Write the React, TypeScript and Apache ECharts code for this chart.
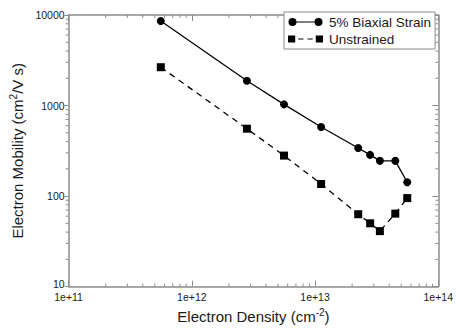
import React, { useEffect, useRef } from 'react';
import * as echarts from 'echarts';

// Electron density (cm^-2)
const density = [5.6e11, 2.8e12, 5.6e12, 1.12e13, 2.24e13, 2.8e13, 3.36e13, 4.48e13, 5.6e13];
// Electron mobility (cm^2/V s)
const strained = [8600, 1880, 1030, 580, 340, 285, 245, 245, 142];
const unstrained = [2650, 555, 280, 136, 63, 50, 41, 64, 95];

const seriesNames = ['5% Biaxial Strain', 'Unstrained'];

const xDecades = [1e11, 1e12, 1e13];
const yDecades = [10, 100, 1000];
const minorMultipliers = [2, 3, 4, 5, 6, 7, 8, 9];

const X_MIN = 1e11;
const X_MAX = 1e14;
const Y_MIN = 10;
const Y_MAX = 10000;

const axisColor = '#8c8c8c';
const textColor = '#1a1a1a';
const font = '"Liberation Sans", Arial, Helvetica, sans-serif';

const circleIcon =
  'path://M1,4 a4,4 0 1,0 8,0 a4,4 0 1,0 -8,0 Z M9,3.4 L27,3.4 L27,4.6 L9,4.6 Z M27,4 a4,4 0 1,0 8,0 a4,4 0 1,0 -8,0 Z';
const squareIcon =
  'path://M1,0.5 L8,0.5 L8,7.5 L1,7.5 Z M11,3.4 L16,3.4 L16,4.6 L11,4.6 Z M20,3.4 L25,3.4 L25,4.6 L20,4.6 Z M28,0.5 L35,0.5 L35,7.5 L28,7.5 Z';

export default function App() {
  const ref = useRef<HTMLDivElement>(null);

  useEffect(() => {
    if (!ref.current) return;
    const chart = echarts.init(ref.current, undefined, { renderer: 'svg' });

    const xMinor: number[][] = [];
    xDecades.forEach((d) => minorMultipliers.forEach((m) => xMinor.push([d * m, Y_MIN])));
    const yMinor: number[][] = [];
    yDecades.forEach((d) => minorMultipliers.forEach((m) => yMinor.push([X_MIN, d * m])));

    const tickStyle = { stroke: axisColor, lineWidth: 1 };

    const option: any = {
      animation: false,
      backgroundColor: '#ffffff',
      grid: { left: 62, top: 15, width: 379, height: 273, containLabel: false },
      legend: {
        data: [
          { name: seriesNames[0], icon: circleIcon },
          { name: seriesNames[1], icon: squareIcon },
        ],
        orient: 'vertical',
        left: 284,
        top: 12,
        itemWidth: 35,
        itemHeight: 8,
        itemGap: 3,
        padding: [3, 4, 3, 4],
        backgroundColor: '#ffffff',
        borderColor: axisColor,
        borderWidth: 1,
        borderRadius: 0,
        textStyle: { fontFamily: font, fontSize: 13.5, lineHeight: 14, color: textColor, padding: [0, 0, 0, 1] },
        selectedMode: false,
      },
      xAxis: [
        {
          type: 'log',
          logBase: 10,
          min: X_MIN,
          max: X_MAX,
          position: 'bottom',
          name: 'Electron Density (cm{sup|-2})',
          nameLocation: 'middle',
          nameGap: 20,
          nameTextStyle: {
            fontFamily: font,
            fontSize: 15,
            color: textColor,
            rich: { sup: { fontFamily: font, fontSize: 10, color: textColor, verticalAlign: 'top', padding: [0, 0, 8, 0] } },
          },
          axisLine: { show: true, lineStyle: { color: axisColor, width: 1.5 } },
          axisTick: { show: true, inside: true, length: 6, lineStyle: { color: axisColor, width: 1 } },
          axisLabel: {
            show: true,
            margin: 5,
            fontFamily: font,
            fontSize: 10.5,
            color: textColor,
            formatter: (v: number) => '1e+' + Math.round(Math.log10(v)),
          },
          splitLine: { show: false },
        },
        {
          type: 'log',
          logBase: 10,
          min: X_MIN,
          max: X_MAX,
          position: 'top',
          axisLine: { show: true, lineStyle: { color: axisColor, width: 1.5 } },
          axisTick: { show: true, inside: true, length: 6, lineStyle: { color: axisColor, width: 1 } },
          axisLabel: { show: false },
          splitLine: { show: false },
        },
      ],
      yAxis: [
        {
          type: 'log',
          logBase: 10,
          min: Y_MIN,
          max: Y_MAX,
          position: 'left',
          name: 'Electron Mobility (cm{sup|2}/V s)',
          nameLocation: 'middle',
          nameGap: 40,
          nameTextStyle: {
            fontFamily: font,
            fontSize: 15,
            color: textColor,
            rich: { sup: { fontFamily: font, fontSize: 10, color: textColor, padding: [0, 0, 8, 0] } },
          },
          axisLine: { show: true, lineStyle: { color: axisColor, width: 1.5 } },
          axisTick: { show: true, inside: false, length: 4, lineStyle: { color: axisColor, width: 1 } },
          axisLabel: {
            show: true,
            margin: 4,
            fontFamily: font,
            fontSize: 10.5,
            color: textColor,
            formatter: (v: number) => (v <= Y_MIN ? '{lo|' + String(Math.round(v)) + '}' : String(Math.round(v))),
            rich: { lo: { fontFamily: font, fontSize: 10.5, color: textColor, padding: [0, 0, 6, 0] } },
          },
          splitLine: { show: false },
        },
        {
          type: 'log',
          logBase: 10,
          min: Y_MIN,
          max: Y_MAX,
          position: 'right',
          axisLine: { show: true, lineStyle: { color: axisColor, width: 1.5 } },
          axisTick: { show: true, inside: true, length: 6, lineStyle: { color: axisColor, width: 1 } },
          axisLabel: { show: false },
          splitLine: { show: false },
        },
      ],
      series: [
        {
          name: seriesNames[0],
          type: 'line',
          xAxisIndex: 0,
          yAxisIndex: 0,
          data: density.map((d, i) => [d, strained[i]]),
          symbol: 'circle',
          symbolSize: 8,
          color: '#000000',
          itemStyle: { color: '#000000' },
          lineStyle: { color: '#000000', width: 1.3 },
          z: 5,
        },
        {
          name: seriesNames[1],
          type: 'line',
          xAxisIndex: 0,
          yAxisIndex: 0,
          data: density.map((d, i) => [d, unstrained[i]]),
          symbol: 'rect',
          symbolSize: 8,
          color: '#000000',
          itemStyle: { color: '#000000' },
          lineStyle: { color: '#000000', width: 1.3, type: [6, 5] },
          z: 5,
        },
        {
          name: 'xMinorTicks',
          type: 'custom',
          xAxisIndex: 0,
          yAxisIndex: 0,
          silent: true,
          clip: false,
          data: xMinor,
          encode: { x: 0, y: 1 },
          renderItem: (_p: any, api: any) => {
            const x = api.value(0);
            const b = api.coord([x, Y_MIN]);
            const t = api.coord([x, Y_MAX]);
            return {
              type: 'group',
              children: [
                { type: 'line', shape: { x1: b[0], y1: b[1], x2: b[0], y2: b[1] - 3 }, style: tickStyle },
                { type: 'line', shape: { x1: t[0], y1: t[1], x2: t[0], y2: t[1] + 3 }, style: tickStyle },
              ],
            };
          },
        },
        {
          name: 'yMinorTicks',
          type: 'custom',
          xAxisIndex: 0,
          yAxisIndex: 0,
          silent: true,
          clip: false,
          data: yMinor,
          encode: { x: 0, y: 1 },
          renderItem: (_p: any, api: any) => {
            const y = api.value(1);
            const l = api.coord([X_MIN, y]);
            const r = api.coord([X_MAX, y]);
            return {
              type: 'group',
              children: [
                { type: 'line', shape: { x1: l[0], y1: l[1], x2: l[0] - 3, y2: l[1] }, style: tickStyle },
                { type: 'line', shape: { x1: r[0], y1: r[1], x2: r[0] - 3, y2: r[1] }, style: tickStyle },
              ],
            };
          },
        },
      ],
    };

    chart.setOption(option);
    return () => chart.dispose();
  }, []);

  return (
    <div
      ref={ref}
      style={{ position: 'fixed', left: 0, top: 0, width: 456, height: 329, background: '#ffffff' }}
    />
  );
}
